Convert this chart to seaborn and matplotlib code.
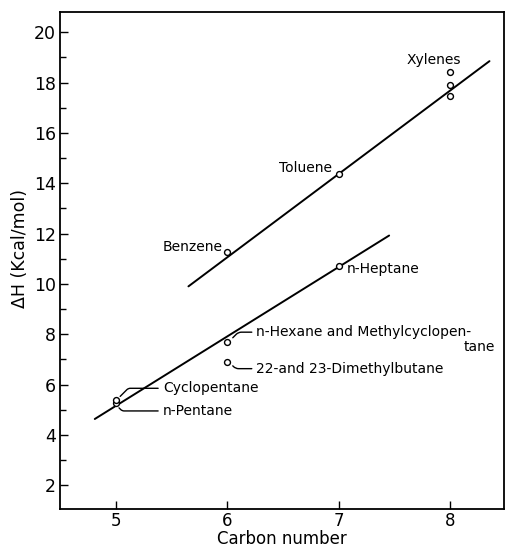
import matplotlib
matplotlib.use("Agg")
import matplotlib.pyplot as plt
import seaborn as sns
import pandas as pd
from matplotlib.ticker import MultipleLocator, FuncFormatter

# ---- data ----
arom_names = ["Benzene", "Toluene", "Xylenes", "Xylenes", "Xylenes"]
arom_c = [6, 7, 8, 8, 8]
arom_dh = [11.25, 14.35, 18.4, 17.9, 17.45]

paraf_names = ["n-Pentane", "Cyclopentane", "n-Hexane and Methylcyclopentane",
               "22-and 23-Dimethylbutane", "n-Heptane"]
paraf_c = [5, 5, 6, 6, 7]
paraf_dh = [5.25, 5.4, 7.7, 6.9, 10.7]

# fitted lines (end points)
arom_line_c = [5.65, 8.35]
arom_line_dh = [9.9, 18.85]
paraf_line_c = [4.81, 7.45]
paraf_line_dh = [4.63, 11.92]

sns.set_style("ticks", {"text.color": "black", "axes.labelcolor": "black",
                        "xtick.color": "black", "ytick.color": "black",
                        "axes.edgecolor": "black"})
plt.rcParams["font.family"] = ["DejaVu Sans"]

fig = plt.figure(figsize=(5.06, 5.48), dpi=100)
ax = fig.add_axes([0.119, 0.071, 0.877, 0.907])

sns.lineplot(x=arom_line_c, y=arom_line_dh, color="black", lw=1.4, ax=ax)
sns.lineplot(x=paraf_line_c, y=paraf_line_dh, color="black", lw=1.4, ax=ax)

pts = pd.DataFrame({"c": arom_c + paraf_c, "dh": arom_dh + paraf_dh})
sns.scatterplot(data=pts, x="c", y="dh", s=18, facecolor="white",
                edgecolor="black", linewidth=1.0, zorder=3, ax=ax)

fs = 10
ax.text(7.85, 18.9, "Xylenes", fontsize=fs, ha="center", va="center")
ax.text(6.94, 14.6, "Toluene", fontsize=fs, ha="right", va="center")
ax.text(5.96, 11.45, "Benzene", fontsize=fs, ha="right", va="center")
ax.text(7.07, 10.6, "n-Heptane", fontsize=fs, ha="left", va="center")

leader = dict(arrowstyle="-", lw=1.0, color="black", shrinkA=1, shrinkB=2)
ax.annotate("n-Hexane and Methylcyclopen-", xy=(6.03, 7.78), xytext=(6.26, 8.08),
            fontsize=fs, ha="left", va="center",
            arrowprops=dict(leader, connectionstyle="angle,angleA=0,angleB=45,rad=3"))
ax.text(8.40, 7.49, "tane", fontsize=fs, ha="right", va="center")
ax.annotate("22-and 23-Dimethylbutane", xy=(6.03, 6.82), xytext=(6.26, 6.63),
            fontsize=fs, ha="left", va="center",
            arrowprops=dict(leader, connectionstyle="angle,angleA=0,angleB=-45,rad=3"))
ax.annotate("Cyclopentane", xy=(5.02, 5.45), xytext=(5.42, 5.85),
            fontsize=fs, ha="left", va="center",
            arrowprops=dict(leader, connectionstyle="angle,angleA=0,angleB=45,rad=2"))
ax.annotate("n-Pentane", xy=(5.01, 5.15), xytext=(5.42, 4.95),
            fontsize=fs, ha="left", va="center",
            arrowprops=dict(leader, connectionstyle="angle,angleA=0,angleB=-45,rad=2"))

ax.set_xlim(4.5, 8.48)
ax.set_ylim(1.05, 20.8)
ax.set_xticks([5, 6, 7, 8])
ax.yaxis.set_major_locator(MultipleLocator(2))
ax.yaxis.set_minor_locator(MultipleLocator(1))
ax.yaxis.set_major_formatter(FuncFormatter(lambda v, p: f"{v:.0f}" if v >= 2 else ""))
ax.tick_params(direction="in", length=6, width=1.0, labelsize=12.5, pad=3)
ax.tick_params(axis="x", pad=2, labelsize=12)
ax.tick_params(which="minor", direction="in", length=4, width=1.0)
for s in ax.spines.values():
    s.set_linewidth(1.3)
    s.set_visible(True)

ax.set_xlabel("Carbon number", fontsize=12, labelpad=0)
ax.set_ylabel("ΔH (Kcal/mol)", fontsize=12.5)
ax.yaxis.set_label_coords(-0.07, 0.525)

fig.savefig("out.png", dpi=100)
